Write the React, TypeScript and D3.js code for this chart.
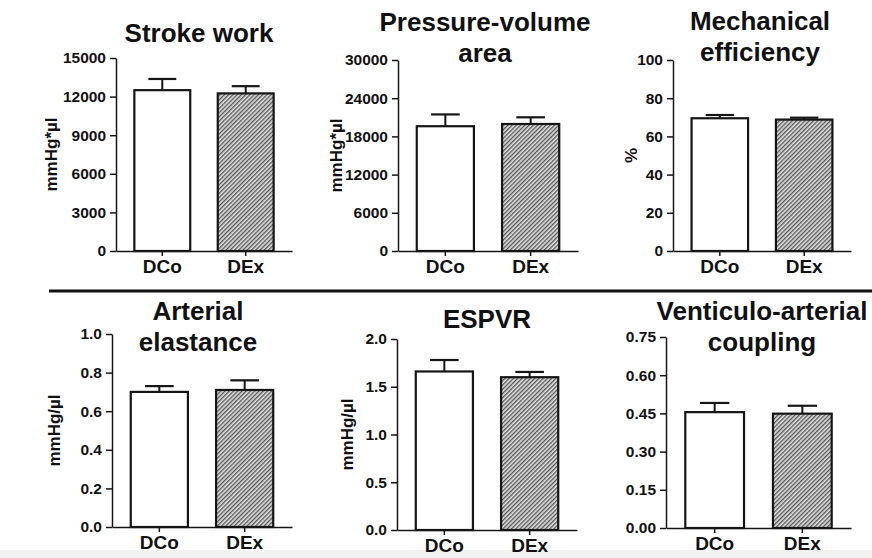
import React, { useEffect, useRef } from 'react';
import * as d3 from 'd3';

// groups
const categories = ['DCo', 'DEx'];

// means and SEM
const strokeWork = [12500, 12250];
const strokeWorkErr = [870, 560];
const pvArea = [19600, 19950];
const pvAreaErr = [1850, 1050];
const mechEff = [69.5, 68.8];
const mechEffErr = [1.7, 1.0];
const artElast = [0.70, 0.71];
const artElastErr = [0.03, 0.05];
const espvr = [1.66, 1.60];
const espvrErr = [0.12, 0.055];
const vaCoupling = [0.455, 0.449];
const vaCouplingErr = [0.036, 0.031];

// tick values
const swTicks = [0, 3000, 6000, 9000, 12000, 15000];
const pvaTicks = [0, 6000, 12000, 18000, 24000, 30000];
const meTicks = [0, 20, 40, 60, 80, 100];
const aeTicks = [0, 0.2, 0.4, 0.6, 0.8, 1.0];
const espvrTicks = [0, 0.5, 1.0, 1.5, 2.0];
const vacTicks = [0, 0.15, 0.3, 0.45, 0.6, 0.75];

const FONT = '"Liberation Sans", Arial, Helvetica, sans-serif';

const panels = [
  { title: ['Stroke work'], titleX: 199, titleY: 42, ylabel: 'mmHg*µl', ylabelX: 51,
    values: strokeWork, errs: strokeWorkErr, ticks: swTicks, fmt: d3.format('d'),
    x0: 116, x1: 292, top: 58, base: 251 },
  { title: ['Pressure-volume', 'area'], titleX: 485, titleY: 31, ylabel: 'mmHg*µl', ylabelX: 336,
    values: pvArea, errs: pvAreaErr, ticks: pvaTicks, fmt: d3.format('d'),
    x0: 398, x1: 578, top: 60, base: 251 },
  { title: ['Mechanical', 'efficiency'], titleX: 760, titleY: 30, ylabel: '%', ylabelX: 631,
    values: mechEff, errs: mechEffErr, ticks: meTicks, fmt: d3.format('d'),
    x0: 673, x1: 851, top: 60, base: 251 },
  { title: ['Arterial', 'elastance'], titleX: 198, titleY: 320, ylabel: 'mmHg/µl', ylabelX: 54,
    values: artElast, errs: artElastErr, ticks: aeTicks, fmt: d3.format('.1f'),
    x0: 112, x1: 292, top: 334, base: 527 },
  { title: ['ESPVR'], titleX: 487, titleY: 328, ylabel: 'mmHg/µl', ylabelX: 347,
    values: espvr, errs: espvrErr, ticks: espvrTicks, fmt: d3.format('.1f'),
    x0: 397, x1: 577, top: 339, base: 530 },
  { title: ['Venticulo-arterial', 'coupling'], titleX: 762, titleY: 320, ylabel: '', ylabelX: 620,
    values: vaCoupling, errs: vaCouplingErr, ticks: vacTicks, fmt: d3.format('.2f'),
    x0: 666, x1: 851, top: 337, base: 528 },
];

export default function App() {
  const ref = useRef<SVGSVGElement>(null);

  useEffect(() => {
    const svg = d3.select(ref.current);
    svg.selectAll('*').remove();

    svg.append('rect').attr('width', 872).attr('height', 558).attr('fill', '#fff');
    svg.append('rect').attr('x', 0).attr('y', 550).attr('width', 872).attr('height', 8).attr('fill', '#f2f2f2');

    const defs = svg.append('defs');
    const pat = defs.append('pattern')
      .attr('id', 'hatch')
      .attr('patternUnits', 'userSpaceOnUse')
      .attr('width', 3)
      .attr('height', 3)
      .attr('patternTransform', 'rotate(45)');
    pat.append('rect').attr('width', 3).attr('height', 3).attr('fill', '#e2e2e2');
    pat.append('line').attr('x1', 0.7).attr('y1', 0).attr('x2', 0.7).attr('y2', 3)
      .attr('stroke', '#444').attr('stroke-width', 1.2);

    // separator between rows
    svg.append('line')
      .attr('x1', 49).attr('x2', 872).attr('y1', 291).attr('y2', 291)
      .attr('stroke', '#111').attr('stroke-width', 3);

    panels.forEach(p => {
      const g = svg.append('g');
      const yMax = p.ticks[p.ticks.length - 1];
      const y = d3.scaleLinear().domain([0, yMax]).range([p.base, p.top]);
      const x = d3.scaleBand().domain(categories).range([p.x0, p.x1])
        .paddingInner(0.33).paddingOuter(0.22);

      // bars
      g.selectAll('rect.bar')
        .data(p.values)
        .enter().append('rect')
        .attr('class', 'bar')
        .attr('x', (d, i) => x(categories[i]) as number)
        .attr('y', d => y(d))
        .attr('width', x.bandwidth())
        .attr('height', d => y(0) - y(d))
        .attr('fill', (d, i) => i === 0 ? '#fff' : 'url(#hatch)')
        .attr('stroke', '#151515')
        .attr('stroke-width', 2.2);

      // error bars (upper only)
      const capW = x.bandwidth() * 0.5;
      p.values.forEach((v, i) => {
        const cx = (x(categories[i]) as number) + x.bandwidth() / 2;
        g.append('line')
          .attr('x1', cx).attr('x2', cx)
          .attr('y1', y(v)).attr('y2', y(v + p.errs[i]))
          .attr('stroke', '#151515').attr('stroke-width', 2);
        g.append('line')
          .attr('x1', cx - capW / 2).attr('x2', cx + capW / 2)
          .attr('y1', y(v + p.errs[i])).attr('y2', y(v + p.errs[i]))
          .attr('stroke', '#151515').attr('stroke-width', 2.2);
      });

      // y axis
      const ya = g.append('g')
        .attr('transform', `translate(${p.x0},0)`)
        .call(d3.axisLeft(y).tickValues(p.ticks).tickFormat(p.fmt as any).tickSize(6).tickSizeOuter(0).tickPadding(4));
      ya.select('.domain').attr('stroke', '#151515').attr('stroke-width', 1.5);
      ya.selectAll('.tick line').attr('stroke', '#151515').attr('stroke-width', 1.5);
      ya.selectAll('.tick text')
        .style('font-family', FONT).style('font-size', '15.5px').style('font-weight', 'bold').attr('fill', '#111');

      // x axis
      const xa = g.append('g')
        .attr('transform', `translate(0,${p.base})`)
        .call(d3.axisBottom(x).tickSize(5).tickSizeOuter(0).tickPadding(4));
      xa.select('.domain').attr('stroke', '#151515').attr('stroke-width', 1.5);
      xa.selectAll('.tick line').attr('stroke', '#151515').attr('stroke-width', 1.5);
      xa.selectAll('.tick text')
        .style('font-family', FONT).style('font-size', '19px').style('font-weight', 'bold').attr('fill', '#111');

      // title
      p.title.forEach((t, k) => {
        g.append('text')
          .attr('x', p.titleX)
          .attr('y', p.titleY + k * 31)
          .attr('text-anchor', 'middle')
          .text(t)
          .style('font-family', FONT).style('font-size', '26px').style('font-weight', 'bold').attr('fill', '#111');
      });

      // y label
      if (p.ylabel) {
        g.append('text')
          .attr('transform', `translate(${p.ylabelX},${(p.top + p.base) / 2}) rotate(-90)`)
          .attr('text-anchor', 'middle')
          .attr('dy', '0.35em')
          .text(p.ylabel)
          .style('font-family', FONT).style('font-size', '17px').style('font-weight', 'bold').attr('fill', '#111');
      }
    });
  }, []);

  return (
    <svg ref={ref} width={872} height={558} style={{ position: 'absolute', left: 0, top: 0 }} />
  );
}
